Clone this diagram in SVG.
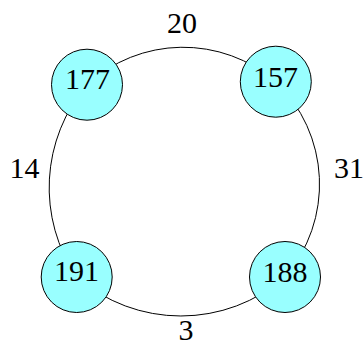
<svg xmlns="http://www.w3.org/2000/svg" width="364" height="347" viewBox="0 0 364 347">
<style>
.edge{fill:none;stroke:#000;stroke-width:1}
.node circle{fill:#99ffff;stroke:#000;stroke-width:1}
text{font-family:"Liberation Serif","DejaVu Serif",serif;font-size:30px;fill:#000;text-anchor:middle}
</style>
<rect width="364" height="347" fill="#fff"/>
<g id="edges">
<path class="edge" d="M87,84.7 A142,142 0 0 1 275.8,81.7"/>
<path class="edge" d="M275.8,81.7 A142,142 0 0 1 285,277"/>
<path class="edge" d="M285,277 A158.6,158.6 0 0 1 76.7,277"/>
<path class="edge" d="M76.7,277 A158.9,158.9 0 0 1 87,84.7"/>
<text x="182" y="33">20</text>
<text x="349" y="178">31</text>
<text x="186" y="340">3</text>
<text x="24.5" y="178">14</text>
</g>
<g id="n177" class="node"><circle cx="87" cy="84.7" r="35.5"/><text x="87.5" y="89">177</text></g>
<g id="n157" class="node"><circle cx="275.8" cy="81.7" r="35.5"/><text x="275.5" y="86.5">157</text></g>
<g id="n191" class="node"><circle cx="76.7" cy="277" r="35.5"/><text x="76.5" y="281">191</text></g>
<g id="n188" class="node"><circle cx="285" cy="277" r="35.5"/><text x="285" y="281.5">188</text></g>
</svg>
